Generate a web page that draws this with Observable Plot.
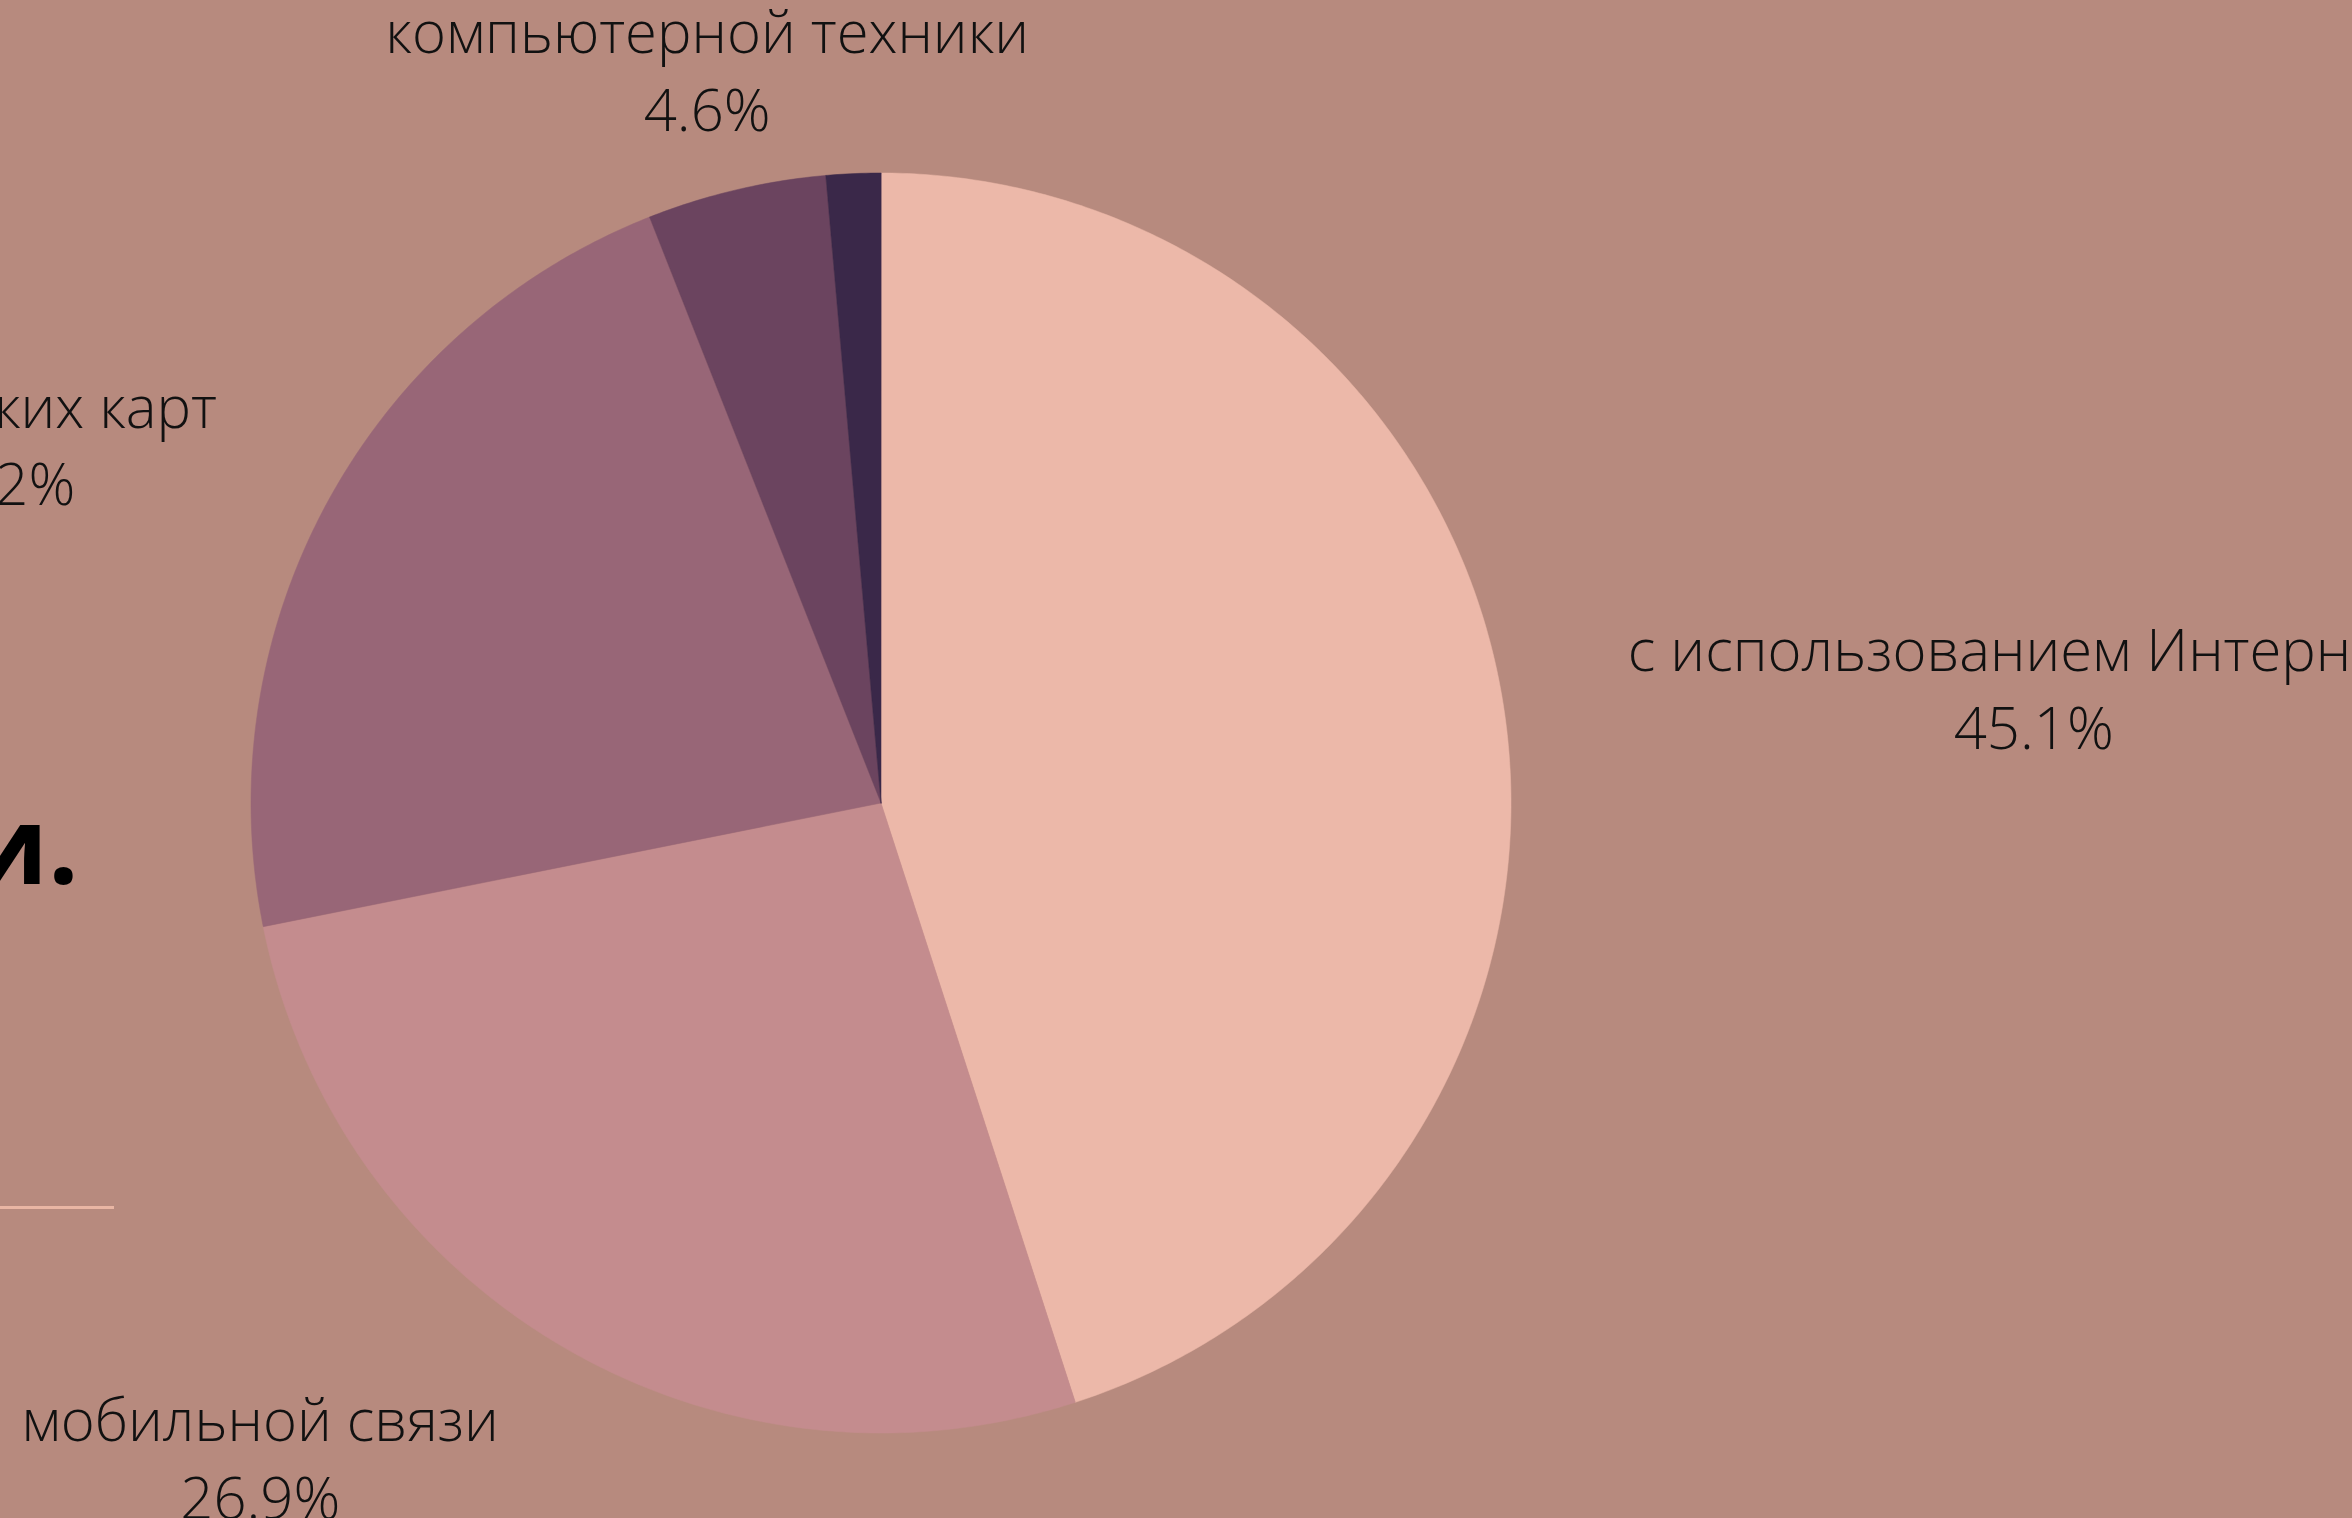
<!DOCTYPE html>
<html><head><meta charset="utf-8">
<script src="https://cdn.jsdelivr.net/npm/d3@7"></script>
<script src="https://cdn.jsdelivr.net/npm/@observablehq/plot@0.6"></script>
<style>
html,body{margin:0;padding:0;width:2352px;height:1518px;overflow:hidden;background:#B78A7E;}
#wrap{position:relative;width:2352px;height:1518px;overflow:hidden;}
#title{position:absolute;left:-1400px;width:1474px;text-align:right;top:789px;font-family:'Open Sans';font-weight:700;font-size:108px;line-height:1;color:#000;white-space:nowrap;}
#rule{position:absolute;left:0;top:1206px;width:114px;height:3px;background:#E9B6A4;}
#chart{position:absolute;left:0;top:0;}
</style></head><body>
<div id="wrap"><div id="title">Способы оплаты покупки.</div><div id="rule"></div><div id="chart"></div></div>
<script>
const categories = ["с использованием Интернета", "мобильной связи", "банковских карт", "компьютерной техники", "прочие способы"];
const shares = [45.1, 26.9, 22.2, 4.6, 1.4];
const colors = ["#ECB8A9", "#C48C8E", "#986677", "#6B445F", "#3A2849"];

const W = 2352, H = 1518, CX = 880.5, CY = 802.5, R = 630;
const LABEL_DIST = 1.2, FONT_SIZE = 58, LINE_H = 1.345;

const arcs = d3.pie().sort(null).value(d => d.v)(categories.map((c, i) => ({name: c, v: shares[i]})));
const pts = [];
for (const a of arcs) {
  const n = Math.max(2, Math.ceil((a.endAngle - a.startAngle) / (Math.PI / 360)));
  pts.push({name: a.data.name, x: 0, y: 0});
  for (let k = 0; k <= n; k++) {
    const t = a.startAngle + (a.endAngle - a.startAngle) * k / n;
    pts.push({name: a.data.name, x: Math.sin(t), y: -Math.cos(t)});
  }
}

const ctx = document.createElement("canvas").getContext("2d");
ctx.font = `300 ${FONT_SIZE}px "Open Sans"`;
const labels = [];
for (const a of arcs) {
  const mid = (a.startAngle + a.endAngle) / 2;
  const s = Math.sin(mid), c = -Math.cos(mid);
  const ax = LABEL_DIST * s, ay = LABEL_DIST * c;
  const lines = [a.data.name, a.data.v.toFixed(1) + "%"];
  const w = Math.max(...lines.map(l => ctx.measureText(l).width)) / R;
  const h = lines.length * FONT_SIZE * LINE_H / R;
  const x = Math.abs(s) < 0.3 ? ax : s > 0 ? ax + w / 2 : ax - w / 2;
  let y = ay;
  for (const o of labels) {
    if (Math.abs(x - o.x) < (w + o.w) / 2 && Math.abs(y - o.y) < (h + o.h) / 2) {
      y = y < 0 ? o.y - (h + o.h) / 2 : o.y + (h + o.h) / 2;
    }
  }
  labels.push({x, y, w, h, text: lines.join("\n")});
}

const chart = Plot.plot({
  width: W, height: H, margin: 0,
  x: {domain: [-CX / R, (W - CX) / R], range: [0, W], axis: null},
  y: {domain: [-CY / R, (H - CY) / R], range: [0, H], axis: null},
  color: {domain: categories, range: colors},
  style: {background: "transparent", overflow: "visible"},
  marks: [
    Plot.line(pts, {x: "x", y: "y", z: "name", fill: "name", stroke: "name", strokeWidth: 0.5, curve: "linear-closed"}),
    Plot.text(labels, {x: "x", y: "y", text: "text", fontSize: FONT_SIZE, lineHeight: LINE_H, lineAnchor: "middle", textAnchor: "middle", fill: "#111", fontFamily: "Open Sans", fontWeight: 300})
  ]
});
document.getElementById("chart").appendChild(chart);
</script>
</body></html>
